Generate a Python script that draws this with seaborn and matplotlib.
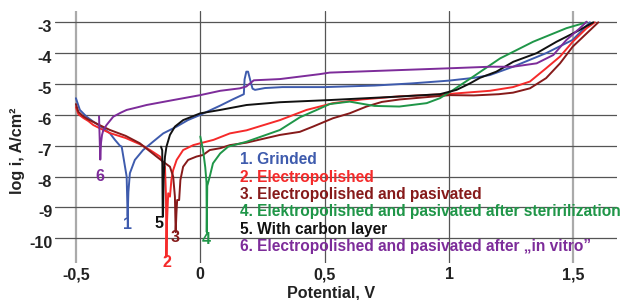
import matplotlib
matplotlib.use("Agg")
import matplotlib.pyplot as plt
import matplotlib.transforms as mtransforms
import numpy as np
import pandas as pd
import seaborn as sns

# ---------------- data ----------------
x1 = [-0.5, -0.484, -0.457, -0.43, -0.39, -0.363, -0.343, -0.323, -0.316, -0.296, -0.292, -0.289,
      -0.283, -0.263, -0.23, -0.19, -0.149, -0.095, -0.05, 0.0, 0.04, 0.08, 0.13, 0.175, 0.178,
      0.185, 0.192, 0.2, 0.21, 0.22, 0.26, 0.33, 0.5, 0.7, 0.85, 1.0, 1.1, 1.164, 1.257, 1.39,
      1.497, 1.566]
y1 = [-5.46, -5.84, -6.06, -6.22, -6.43, -6.6, -6.81, -7.0, -7.03, -8.0, -9.3, -8.5,
      -7.89, -7.46, -7.14, -6.87, -6.6, -6.38, -6.17, -6.0, -5.85, -5.7, -5.5, -5.33, -4.85,
      -4.6, -4.6, -4.85, -5.15, -5.19, -5.13, -5.1, -5.1, -5.05, -4.98, -4.89, -4.8, -4.71, -4.44, -4.0,
      -3.57, -3.0]

x2 = [-0.5, -0.49, -0.47, -0.45, -0.43, -0.40, -0.363, -0.3, -0.243, -0.2, -0.162, -0.142,
      -0.138, -0.137, -0.136, -0.134, -0.129, -0.122, -0.116, -0.109, -0.095, -0.069, -0.028,
      0.0, 0.053, 0.119, 0.186, 0.32, 0.427, 0.534, 0.65, 0.8, 1.003, 1.164, 1.257, 1.325,
      1.39, 1.446, 1.497, 1.553, 1.586]
y2 = [-5.75, -5.98, -6.1, -6.2, -6.33, -6.45, -6.59, -6.75, -6.95, -7.15, -7.35, -7.68,
      -8.6, -9.6, -10.6, -9.5, -8.54, -8.65, -8.1, -7.79, -7.46, -7.14, -6.98,
      -6.92, -6.81, -6.6, -6.5, -6.17, -5.84, -5.62, -5.5, -5.4, -5.32, -5.22, -5.1, -4.92,
      -4.49, -4.11, -3.63, -3.19, -3.0]

x3 = [-0.5, -0.49, -0.47, -0.45, -0.43, -0.40, -0.363, -0.3, -0.243, -0.176, -0.149, -0.122,
      -0.109, -0.102, -0.099, -0.096, -0.093, -0.085, -0.08, -0.069, -0.049, -0.015, 0.011,
      0.038, 0.08, 0.119, 0.186, 0.32, 0.4, 0.453, 0.533, 0.6, 0.668, 0.73, 0.802, 1.003,
      1.1, 1.2, 1.257, 1.325, 1.39, 1.446, 1.497, 1.553, 1.6]
y3 = [-5.65, -5.9, -6.05, -6.15, -6.23, -6.35, -6.49, -6.68, -6.92, -7.35, -7.52, -7.68,
      -8.0, -8.65, -9.8, -9.2, -8.76, -8.76, -8.11, -7.68, -7.46, -7.35, -7.3,
      -7.14, -7.08, -6.98, -6.9, -6.65, -6.55, -6.38, -6.11, -5.95, -5.73, -5.58, -5.5, -5.36,
      -5.37, -5.33, -5.28, -5.14, -4.81, -4.33, -3.79, -3.36, -3.0]

x4 = [0.0, 0.011, 0.02, 0.025, 0.026, 0.028, 0.038, 0.051, 0.08, 0.112, 0.186, 0.32, 0.4,
      0.468, 0.52, 0.6, 0.7, 0.8, 0.91, 0.963, 1.017, 1.097, 1.205, 1.338, 1.472, 1.553]
y4 = [-6.7, -7.14, -7.7, -8.2, -9.8, -8.3, -8.0, -7.57, -7.25, -7.03, -6.87, -6.49, -6.08,
      -5.84, -5.65, -5.57, -5.71, -5.73, -5.62, -5.46, -5.19, -4.76, -4.17, -3.63, -3.19, -3.0]

x5 = [-0.158, -0.153, -0.152, -0.151, -0.150, -0.147, -0.142, -0.136, -0.122, -0.102, -0.069,
      0.0, 0.08, 0.186, 0.32, 0.52, 0.789, 0.963, 1.03, 1.084, 1.124, 1.19, 1.258, 1.352,
      1.432, 1.513, 1.58]
y5 = [-7.03, -7.15, -8.2, -9.3, -9.3, -8.0, -7.36, -7.03, -6.65, -6.38, -6.17,
      -5.95, -5.84, -5.68, -5.59, -5.52, -5.41, -5.33, -5.19, -4.98, -4.8, -4.6, -4.28, -4.0,
      -3.63, -3.3, -3.0]

x6 = [-0.407, -0.405, -0.402, -0.399, -0.395, -0.39, -0.377, -0.35, -0.32, -0.296, -0.25,
      -0.216, -0.109, 0.0, 0.08, 0.159, 0.185, 0.215, 0.32, 0.48, 0.52, 1.003, 1.164, 1.257,
      1.352, 1.419, 1.472, 1.526, 1.553]
y6 = [-6.05, -6.6, -7.45, -6.9, -6.65, -6.5, -6.33, -6.06, -5.93, -5.84, -5.75,
      -5.68, -5.52, -5.36, -5.22, -5.14, -5.08, -4.88, -4.84, -4.68, -4.63, -4.49, -4.44, -4.44,
      -4.33, -4.06, -3.57, -3.19, -2.98]

series_names = ["1", "2", "3", "4", "5", "6"]
legend_texts = [
    "1. Grinded",
    "2. Electropolished",
    "3. Electropolished and pasivated",
    "4. Elektropolished and pasivated after steririlization",
    "5. With carbon layer",
    "6. Electropolished and pasivated after \u201ein vitro\u201d",
]
x_ticks = [-0.5, 0, 0.5, 1, 1.5]
x_tick_labels = ["-0,5", "0", "0,5", "1", "1,5"]
y_ticks = [-3, -4, -5, -6, -7, -8, -9, -10]
y_tick_labels = ["-3", "-4", "-5", "-6", "-7", "-8", "-9", "-10"]

colors = {"1": "#3E5BAD", "2": "#F52A2A", "3": "#861A1A",
          "4": "#1F9648", "5": "#111111", "6": "#7D2C9A"}

# positions of curve-number labels and legend lines (layout)
num_label_pos = {"1": (-0.292, -9.55), "2": (-0.136, -10.78), "3": (-0.1, -9.97),
                 "4": (0.025, -10.03), "5": (-0.165, -9.52), "6": (-0.404, -8.0)}

# ---------------- build frame ----------------
xs = [x1, x2, x3, x4, x5, x6]
ys = [y1, y2, y3, y4, y5, y6]
frames = []
for name, xx, yy in zip(series_names, xs, ys):
    frames.append(pd.DataFrame({"potential": xx, "logi": yy, "sample": name,
                                "order": np.arange(len(xx))}))
df = pd.concat(frames, ignore_index=True)

sns.set_theme(style="white")
plt.rcParams["font.family"] = ["Liberation Sans", "DejaVu Sans"]
plt.rcParams["font.weight"] = "bold"

FS = 11.6
FS_LEG = 11.2

fig = plt.figure(figsize=(6.32, 3.0), dpi=100)
ax = fig.add_axes([55 / 632, 37 / 300, 562 / 632, 252 / 300])

sns.lineplot(data=df, x="potential", y="logi", hue="sample", palette=colors,
             sort=False, estimator=None, legend=False, linewidth=1.4, ax=ax)

ax.set_xlim(-0.584, 1.675)
ax.set_ylim(-10.8, -2.634)
for s in ax.spines.values():
    s.set_visible(False)

ax.set_xticks(x_ticks)
ax.set_xticklabels(x_tick_labels, fontsize=FS, fontweight="bold", color="#222222")
ax.set_yticks(y_ticks)
ax.set_yticklabels(y_tick_labels, fontsize=FS, fontweight="bold", color="#222222")
ax.tick_params(axis="both", length=0)
ax.tick_params(axis="x", pad=3)
ax.tick_params(axis="y", pad=2)

ax.grid(True, color="#555555", linewidth=0.9)
ax.set_axisbelow(True)
for val, gl in zip(x_ticks, ax.get_xgridlines()):
    if val in (-0.5, 1.5):
        gl.set_color("#AAAAAA")
        gl.set_linewidth(1.6)

offset = mtransforms.ScaledTranslation(0, -4 / 100, fig.dpi_scale_trans)
for lab in ax.get_yticklabels():
    lab.set_transform(lab.get_transform() + offset)

ax.set_xlabel("Potential, V", fontsize=FS, fontweight="bold", color="#222222")
ax.set_ylabel("log i, A/cm\u00b2", fontsize=FS, fontweight="bold", color="#222222")
ax.xaxis.set_label_coords(0.491, -0.09)
ax.yaxis.set_label_coords(-0.053, 0.444)

for name in series_names:
    px, py = num_label_pos[name]
    ax.text(px, py, name, color=colors[name], fontsize=FS, fontweight="bold",
            ha="center", va="center")

leg_x = 0.159
leg_y0 = -7.46
leg_dy = 0.56
for i, (name, txt) in enumerate(zip(series_names, legend_texts)):
    ax.text(leg_x, leg_y0 - i * leg_dy, txt, color=colors[name], fontsize=FS_LEG,
            fontweight="bold", ha="left", va="center")

fig.savefig("out.png", dpi=100)
